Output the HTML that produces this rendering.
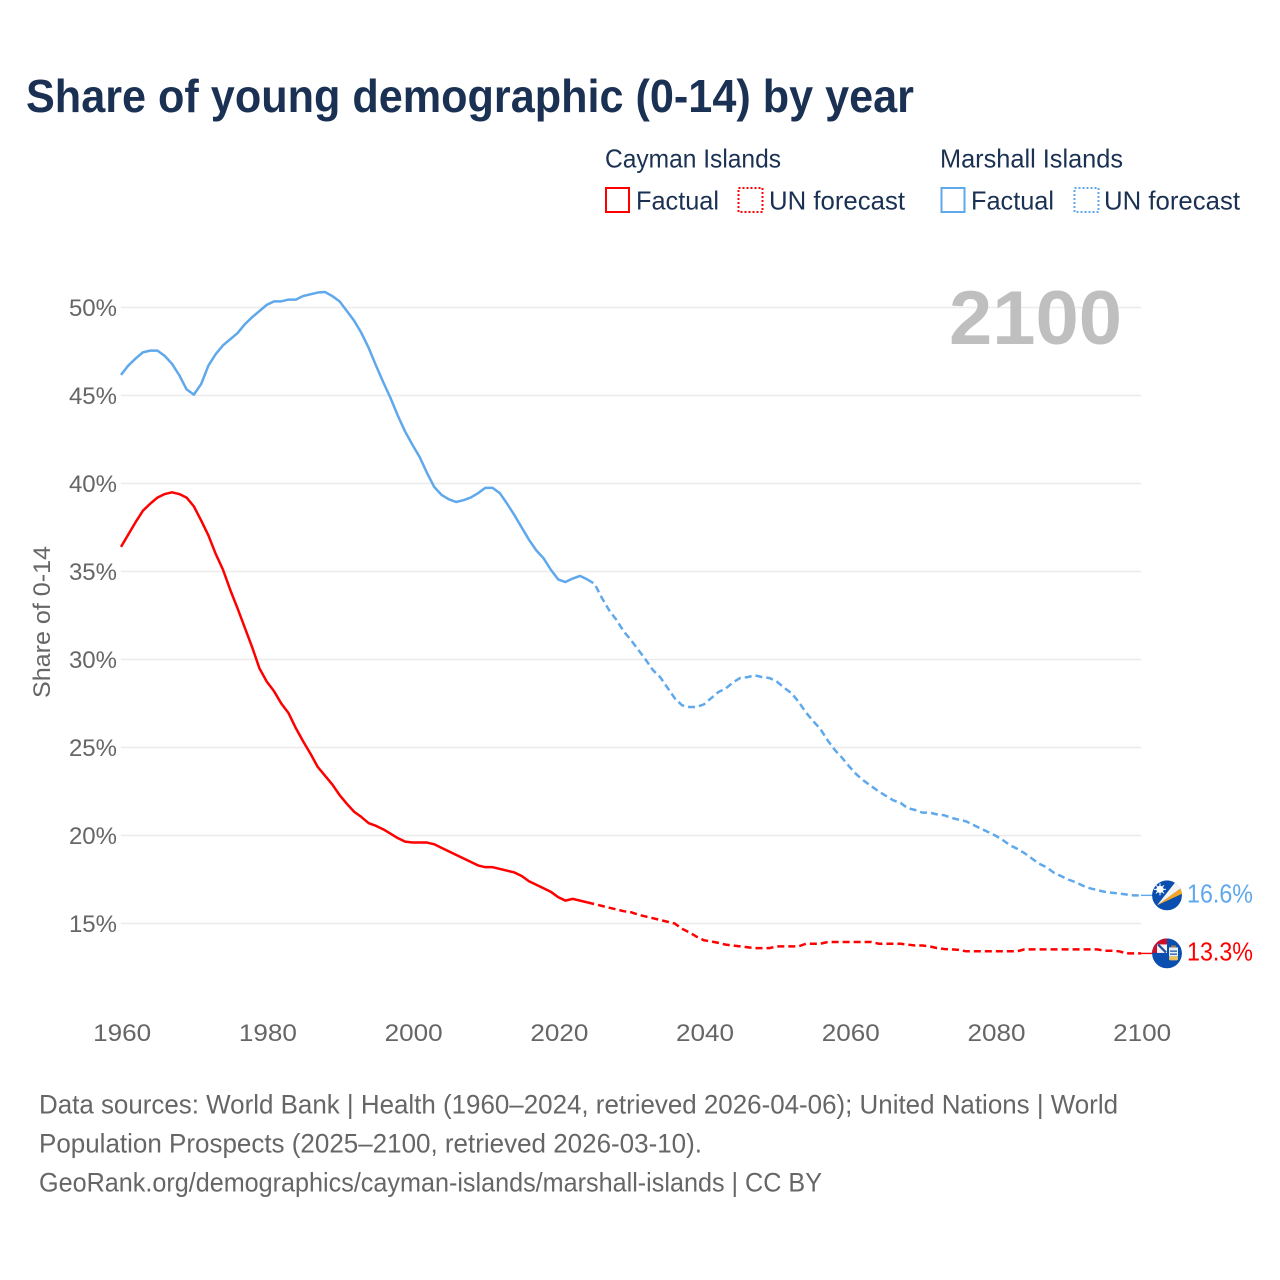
<!DOCTYPE html>
<html lang="en">
<head>
<meta charset="utf-8">
<title>Share of young demographic (0-14) by year</title>
<style>
html,body{margin:0;padding:0;background:#fff;}
svg{display:block;font-family:"Liberation Sans",sans-serif;}
</style>
</head>
<body>
<svg id="chart" width="1280" height="1280" viewBox="0 0 1280 1280" xmlns="http://www.w3.org/2000/svg">
  <defs>
    <clipPath id="flag-clip"><circle cx="0" cy="0" r="15"/></clipPath>
  </defs>
  <rect width="1280" height="1280" fill="#fff"/>
  <text x="26" y="112" font-size="46" font-weight="700" fill="#1a3153" textLength="888" lengthAdjust="spacingAndGlyphs">Share of young demographic (0-14) by year</text>

  <g font-size="26" fill="#1a3153">
    <text x="605" y="167.500" textLength="176" lengthAdjust="spacingAndGlyphs">Cayman Islands</text>
    <text x="940" y="167.500" textLength="183" lengthAdjust="spacingAndGlyphs">Marshall Islands</text>
    <rect x="606" y="188" width="23" height="24" fill="none" stroke="#ff0000" stroke-width="2"/>
    <text x="636" y="209.500" textLength="83" lengthAdjust="spacingAndGlyphs">Factual</text>
    <rect x="738.500" y="188" width="24" height="24" fill="none" stroke="#ff0000" stroke-width="2" stroke-dasharray="2 2"/>
    <text x="769" y="209.500" textLength="136" lengthAdjust="spacingAndGlyphs">UN forecast</text>
    <rect x="941.500" y="188" width="23" height="24" fill="none" stroke="#5fa8ec" stroke-width="2"/>
    <text x="971" y="209.500" textLength="83" lengthAdjust="spacingAndGlyphs">Factual</text>
    <rect x="1074.500" y="188" width="24" height="24" fill="none" stroke="#5fa8ec" stroke-width="2" stroke-dasharray="2 2"/>
    <text x="1104" y="209.500" textLength="136" lengthAdjust="spacingAndGlyphs">UN forecast</text>
  </g>

  <g id="grid"></g>
  <g id="y-ticks" font-size="24" fill="#666" text-anchor="end"></g>
  <g id="x-ticks" font-size="24" fill="#666" text-anchor="middle"></g>
  <text transform="translate(50,622) rotate(-90)" font-size="24" fill="#666" text-anchor="middle" textLength="152" lengthAdjust="spacingAndGlyphs">Share of 0-14</text>
  <text x="949" y="344" font-size="76" font-weight="700" fill="#bfbfbf" textLength="173" lengthAdjust="spacingAndGlyphs">2100</text>
  <g id="series"></g>
  <g id="end-markers"></g>

  <g font-size="27" fill="#666">
    <text x="39" y="1113.500" textLength="1079" lengthAdjust="spacingAndGlyphs">Data sources: World Bank | Health (1960–2024, retrieved 2026-04-06); United Nations | World</text>
    <text x="39" y="1152.500" textLength="663" lengthAdjust="spacingAndGlyphs">Population Prospects (2025–2100, retrieved 2026-03-10).</text>
    <text x="39" y="1191.500" textLength="783" lengthAdjust="spacingAndGlyphs">GeoRank.org/demographics/cayman-islands/marshall-islands | CC BY</text>
  </g>
</svg>
<script>
const startYear = 1960;
const lastFactualYear = 2024;
const yTickValues = [15, 20, 25, 30, 35, 40, 45, 50];
const xTickValues = [1960, 1980, 2000, 2020, 2040, 2060, 2080, 2100];

const caymanValues = [
  36.4,37.1,37.8,38.45,38.85,39.2,39.4,39.5,39.4,39.2,
  38.7,37.9,37.05,36.0,35.1,33.95,32.9,31.8,30.7,29.5,
  28.75,28.2,27.5,26.95,26.1,25.35,24.65,23.9,23.4,22.9,
  22.3,21.8,21.35,21.05,20.7,20.55,20.35,20.1,19.85,19.65,
  19.6,19.6,19.6,19.5,19.3,19.1,18.9,18.7,18.5,18.3,
  18.2,18.2,18.1,18.0,17.9,17.7,17.4,17.2,17.0,16.8,
  16.5,16.3,16.4,16.3,16.2,16.1,16.0,15.9,15.8,15.7,
  15.64,15.5,15.4,15.3,15.2,15.1,15.0,14.7,14.5,14.25,
  14.05,13.98,13.9,13.8,13.75,13.7,13.65,13.6,13.6,13.6,
  13.7,13.7,13.7,13.7,13.85,13.85,13.85,13.95,13.95,13.95,
  13.95,13.95,13.95,13.95,13.85,13.85,13.85,13.85,13.8,13.75,
  13.75,13.7,13.6,13.55,13.53,13.5,13.42,13.42,13.42,13.42,
  13.42,13.42,13.42,13.42,13.53,13.53,13.53,13.53,13.53,13.53,
  13.53,13.53,13.53,13.53,13.53,13.45,13.45,13.42,13.3,13.3,
  13.3
];

const marshallValues = [
  46.17,46.7,47.1,47.45,47.55,47.55,47.25,46.8,46.15,45.35,
  45.05,45.65,46.7,47.35,47.85,48.2,48.55,49.05,49.45,49.8,
  50.15,50.35,50.35,50.45,50.45,50.65,50.75,50.85,50.88,50.65,
  50.35,49.8,49.25,48.55,47.7,46.7,45.75,44.85,43.85,42.95,
  42.2,41.5,40.6,39.8,39.35,39.1,38.95,39.05,39.2,39.45,
  39.75,39.75,39.45,38.85,38.2,37.5,36.8,36.2,35.75,35.1,
  34.55,34.4,34.6,34.75,34.55,34.3,33.5,32.8,32.25,31.6,
  31.1,30.55,30.0,29.4,29.0,28.4,27.8,27.4,27.3,27.3,
  27.45,27.8,28.15,28.35,28.7,28.95,29.0,29.1,29.0,28.95,
  28.75,28.4,28.1,27.6,27.0,26.5,26.05,25.4,24.85,24.4,
  23.9,23.45,23.1,22.8,22.5,22.25,22.0,21.85,21.55,21.45,
  21.3,21.3,21.2,21.15,21.0,20.9,20.8,20.6,20.4,20.2,
  20.0,19.75,19.45,19.25,19.0,18.7,18.4,18.2,17.9,17.7,
  17.5,17.35,17.15,17.0,16.9,16.8,16.75,16.7,16.65,16.6,
  16.6
];

const NS = 'http://www.w3.org/2000/svg';
const RED = '#ff0000';
const BLUE = '#5fa8ec';

function xScale(year) { return 121 + (year - 1960) * (1020 / 140); }
function yScale(value) { return 923.5 - (value - 15) * 17.6; }

function make(tag, attrs, parent) {
  const el = document.createElementNS(NS, tag);
  for (const k in attrs) el.setAttribute(k, attrs[k]);
  parent.appendChild(el);
  return el;
}

const gridGroup = document.getElementById('grid');
const yGroup = document.getElementById('y-ticks');
yTickValues.forEach(function (v) {
  const line = make('line', { x1: 121, x2: 1141, y1: yScale(v), y2: yScale(v), stroke: '#ebebeb', 'stroke-width': 1.4 }, gridGroup);
  
  
  const label = make('text', { x: 117, y: yScale(v) + 8.5 }, yGroup);
  
  
  label.textContent = v + '%';
});

const xGroup = document.getElementById('x-ticks');
xTickValues.forEach(function (y) {
  const label = make('text', { x: xScale(y) + 1.2, y: 1041, textLength: 58, lengthAdjust: 'spacingAndGlyphs' }, xGroup);
  
  
  label.textContent = y;
});

function pathFor(values, from, to) {
  let d = '';
  for (let i = from; i <= to; i++) {
    d += (i === from ? 'M' : 'L') + xScale(startYear + i).toFixed(2) + ' ' + yScale(values[i]).toFixed(2);
  }
  return d;
}

const seriesGroup = document.getElementById('series');
function drawSeries(values, color) {
  const split = lastFactualYear - startYear;
  const last = values.length - 1;
  const solid = make('path', { d: pathFor(values, 0, split), fill: 'none', stroke: color, 'stroke-width': 2.5, 'stroke-linejoin': 'round' }, seriesGroup);
  
  
  const dashed = make('path', { d: pathFor(values, split, last), fill: 'none', stroke: color, 'stroke-width': 2.5, 'stroke-dasharray': '7 4', 'stroke-linejoin': 'round' }, seriesGroup);
  
  
  const lastX = xScale(startYear + last);
  const lastY = yScale(values[last]);
  const connector = make('line', { x1: lastX, x2: lastX + 12, y1: lastY, y2: lastY, stroke: color, 'stroke-width': 1.4 }, seriesGroup);
  
  
}
drawSeries(caymanValues, RED);
drawSeries(marshallValues, BLUE);

const markerGroup = document.getElementById('end-markers');

function endLabel(value, color, name) {
  const t = make('text', { x: 1187, y: yScale(value) + 7, 'font-size': 26, fill: color, textLength: 66, lengthAdjust: 'spacingAndGlyphs' }, markerGroup);
  
  
  t.textContent = value.toFixed(1) + '%';
}

function flagGroup(value, name) {
  const g = make('g', { transform: 'translate(1167,' + yScale(value) + ')', 'clip-path': 'url(#flag-clip)' }, markerGroup);
  
  
  make('circle', { cx: 0, cy: 0, r: 15, fill: '#0a4fb0' }, g);
  return g;
}

const marshallLast = marshallValues[marshallValues.length - 1];
const mh = flagGroup(marshallLast, 'flag-marshall-islands');
make('polygon', { points: '-10,10 15,-8 16,-2', fill: '#f5a623' }, mh);
make('polygon', { points: '-10,10 9,-14 15,-8', fill: '#f3f3f3' }, mh);
make('circle', { cx: -7, cy: -6, r: 3.600, fill: '#fff' }, mh);
make('path', { d: 'M-7,-12V0M-13,-6H-1M-11,-10L-3,-2M-3,-10L-11,-2', stroke: '#fff', 'stroke-width': 1 }, mh);
endLabel(marshallLast, BLUE, 'end-label-marshall-islands');

const caymanLast = caymanValues[caymanValues.length - 1];
const ky = flagGroup(caymanLast, 'flag-cayman-islands');
make('rect', { x: -15, y: -15, width: 15, height: 14.500, fill: '#c8102e' }, ky);
make('rect', { x: -10, y: -9, width: 10, height: 8.500, fill: '#f4f4f4' }, ky);
make('path', { d: 'M-9,-9L-1,-1', stroke: '#1f4fa3', 'stroke-width': 2.200 }, ky);
make('rect', { x: 2, y: -6, width: 9, height: 9, fill: '#e9eef5' }, ky);
make('rect', { x: 3, y: -3, width: 7, height: 1.500, fill: '#3a6db5' }, ky);
make('rect', { x: 3, y: 0, width: 7, height: 1.500, fill: '#3a6db5' }, ky);
make('rect', { x: 4, y: -8, width: 5, height: 2, fill: '#9a7a52' }, ky);
make('rect', { x: 2, y: 3, width: 9, height: 4, rx: 1.500, fill: '#e8c15a' }, ky);
endLabel(caymanLast, RED, 'end-label-cayman-islands');
</script>
</body>
</html>
